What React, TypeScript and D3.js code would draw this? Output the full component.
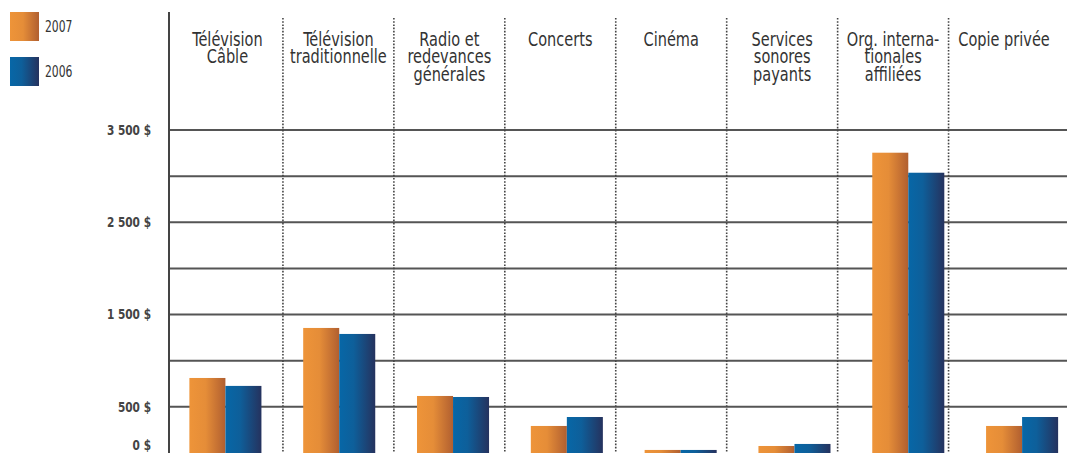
import React from "react";
import * as d3 from "d3";

const categories = [
  ["Télévision", "Câble"],
  ["Télévision", "traditionnelle"],
  ["Radio et", "redevances", "générales"],
  ["Concerts"],
  ["Cinéma"],
  ["Services", "sonores", "payants"],
  ["Org. interna-", "tionales", "affiliées"],
  ["Copie privée"],
];
const seriesNames = ["2007", "2006"];
const values2007 = [813, 1355, 618, 293, 33, 76, 3254, 293];
const values2006 = [727, 1290, 607, 390, 33, 98, 3037, 390];
const gridValues = [500, 1000, 1500, 2000, 2500, 3000, 3500];
const tickValues = [0, 500, 1500, 2500, 3500];
const tickLabels = ["0 $", "500 $", "1 500 $", "2 500 $", "3 500 $"];

const W = 1067;
const H = 453;
const FONT = "'Liberation Sans Narrow', 'DejaVu Sans Condensed', 'Arial Narrow', sans-serif";

export default function App() {
  const keys = categories.map((_, i) => String(i));
  const y = d3.scaleLinear().domain([0, 3500]).range([453, 130]);
  const xBars = d3.scaleBand<string>().domain(keys).range([168.5, 1079]).paddingInner(0.367).paddingOuter(0.1835);
  const xSub = d3.scaleBand<string>().domain(seriesNames).range([0, xBars.bandwidth()]);
  const xHead = d3.scaleBand<string>().domain(keys).range([172, 1059.5]);
  const series = [values2007, values2006];
  const gradIds = ["gOrange", "gBlue"];

  return (
    <svg width={W} height={H} style={{ position: "absolute", left: 0, top: 0, display: "block", background: "#fff" }} fontFamily={FONT}>
      <defs>
        <linearGradient id="gOrange" x1="0" x2="1" y1="0" y2="0">
          <stop offset="0" stopColor="#EE9439" />
          <stop offset="0.45" stopColor="#E58D38" />
          <stop offset="1" stopColor="#B15F30" />
        </linearGradient>
        <linearGradient id="gBlue" x1="0" x2="1" y1="0" y2="0">
          <stop offset="0" stopColor="#0767A7" />
          <stop offset="0.4" stopColor="#0E5F9A" />
          <stop offset="1" stopColor="#25325E" />
        </linearGradient>
      </defs>

      {/* legend */}
      {seriesNames.map((s, i) => (
        <g key={s} transform={`translate(10, ${12 + i * 45})`}>
          <rect width={29} height={29} fill={`url(#${gradIds[i]})`} />
          <text transform="translate(35, 20) scale(0.8, 1)" fontSize={15} fill="#333">{s}</text>
        </g>
      ))}

      {/* gridlines */}
      {gridValues.map((v) => (
        <line key={v} x1={170} x2={W} y1={y(v)} y2={y(v)} stroke="#555" strokeWidth={2} />
      ))}

      {/* dividers */}
      {keys.slice(1).map((k) => (
        <line key={k} x1={xHead(k)!} x2={xHead(k)!} y1={18} y2={H} stroke="#444" strokeWidth={1.6} strokeDasharray="1.6,1.6" />
      ))}

      {/* axis */}
      <line x1={169} x2={169} y1={12} y2={H} stroke="#444" strokeWidth={2} />

      {/* y tick labels */}
      {tickValues.map((v, i) => (
        <text key={v} transform={`translate(151, ${Math.min(y(v), 445)}) scale(0.84, 1)`} dy="0.35em" textAnchor="end" fontSize={14} fontWeight="bold" fill="#444">
          {tickLabels[i]}
        </text>
      ))}

      {/* headers */}
      {categories.map((lines, i) => (
        <text key={i} transform={`translate(${xHead(keys[i])! + xHead.bandwidth() / 2}, 0) scale(0.85, 1)`} textAnchor="middle" fontSize={19} fill="#333">
          {lines.map((l, j) => (
            <tspan key={j} x={0} y={46 + j * 17.5}>{l}</tspan>
          ))}
        </text>
      ))}

      {/* bars */}
      {keys.map((k, i) => (
        <g key={k} transform={`translate(${xBars(k)}, 0)`}>
          {seriesNames.map((s, si) => (
            <rect key={s} x={xSub(s)!} y={y(series[si][i])} width={xSub.bandwidth()} height={y(0) - y(series[si][i])} fill={`url(#${gradIds[si]})`} />
          ))}
        </g>
      ))}
    </svg>
  );
}
